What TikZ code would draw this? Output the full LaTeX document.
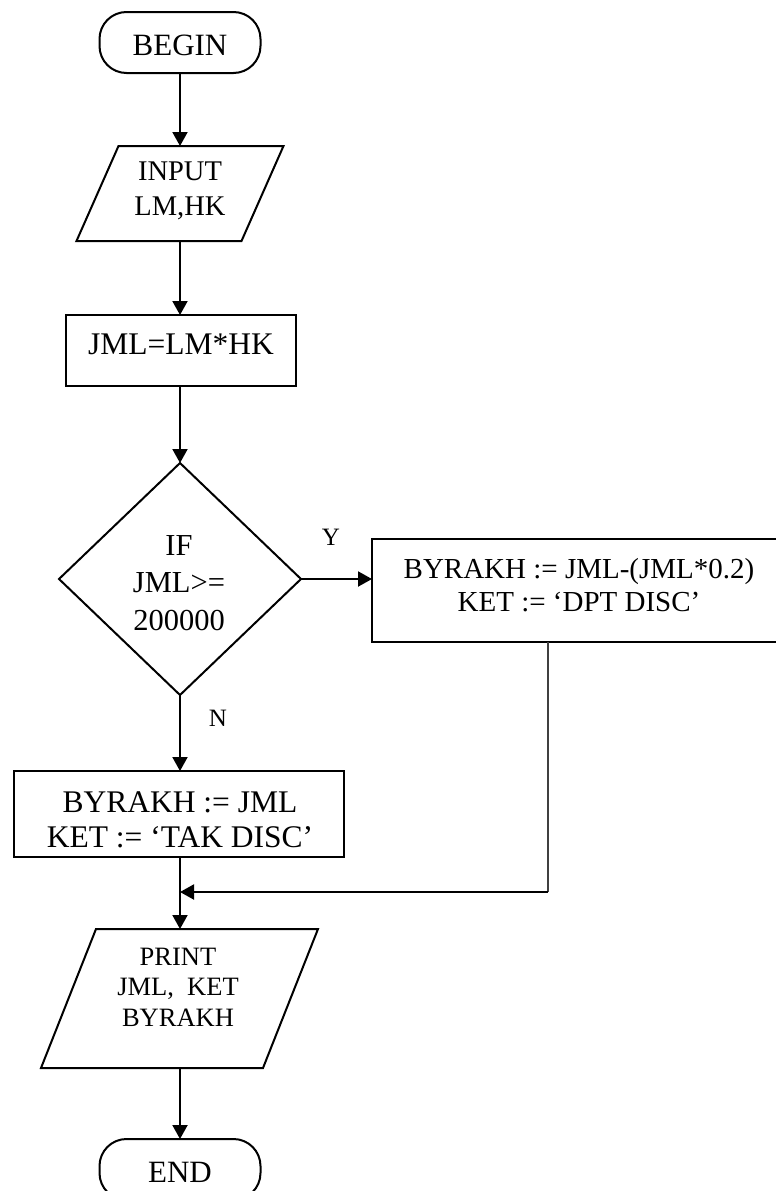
\documentclass[tikz,border=0pt]{standalone}
\usepackage{fontspec}
\setmainfont{Liberation Serif}
\usetikzlibrary{arrows.meta}
\newcommand{\fsz}[2]{\fontsize{#1}{#2}\selectfont}
\begin{document}
\begin{tikzpicture}[x=1pt,y=-1pt,line width=2pt,
  flow/.style={-{Triangle[length=14pt,width=15pt]}},
  tbox/.style={draw,inner sep=0pt,outer sep=0pt},
  frame/.style={inner sep=0pt,outer sep=0pt},
  txt/.style={inner sep=0pt,align=center}]
\useasboundingbox (0,0) rectangle (776,1191);
\clip (0,0) rectangle (776,1191);
\fill[white] (0,0) rectangle (776,1191);

% shapes
\node[tbox,minimum width=161pt,minimum height=61pt,rounded corners=27pt] (begin) at (180,42.5) {};
\node[txt,font=\fsz{31}{35}] (beginT) at (180,45) {BEGIN};

\node[frame,minimum width=207pt,minimum height=95pt] (input) at (180,193.5) {};
\draw ([xshift=42pt]input.north west) -- (input.north east) -- ([xshift=-42pt]input.south east) -- (input.south west) -- cycle;
\node[txt,font=\fsz{28.5}{35}] (inputT) at (180,191) {INPUT\\LM,HK};

\node[tbox,minimum width=230pt,minimum height=71pt] (jml) at (181,350.5) {};
\node[txt,font=\fsz{31.5}{35}] (jmlT) at (181,344) {JML=LM*HK};

\node[frame,minimum width=242pt,minimum height=232pt] (dec) at (180,579) {};
\draw (dec.north) -- (dec.east) -- (dec.south) -- (dec.west) -- cycle;
\node[txt,font=\fsz{30.5}{37.5}] (decT) at (179,583) {IF\\JML>=\\200000};

\node[tbox,minimum width=414pt,minimum height=103pt] (dpt) at (579,590.5) {};
\node[txt,font=\fsz{29}{33}] (dptT) at (579,585) {BYRAKH := JML-(JML*0.2)\\KET := ‘DPT DISC’};

\node[tbox,minimum width=330pt,minimum height=86pt] (tak) at (179,814) {};
\node[txt,font=\fsz{31.5}{35}] (takT) at (180,819.5) {BYRAKH := JML\\KET := ‘TAK DISC’};

\node[frame,minimum width=277pt,minimum height=139pt] (print) at (179.5,998.5) {};
\draw ([xshift=55pt]print.north west) -- (print.north east) -- ([xshift=-55pt]print.south east) -- (print.south west) -- cycle;
\node[txt,font=\fsz{26.5}{30.5}] (printT) at (178,987) {PRINT\\JML,\ \ KET\\BYRAKH};

\node[tbox,minimum width=161pt,minimum height=61pt,rounded corners=27pt] (end) at (180,1169.5) {};
\node[txt,font=\fsz{31}{35}] (endT) at (180,1172) {END};

% labels
\node[txt,font=\fsz{25}{28}] (yes) at (331,537) {Y};
\node[txt,font=\fsz{25}{28}] (no) at (218,718) {N};

% connectors
\coordinate (corner) at (548,892);
\coordinate (merge) at (180,892);
\draw[flow] (begin.south -| merge) -- (merge |- input.north);
\draw[flow] (input.south -| merge) -- (merge |- jml.north);
\draw[flow] (jml.south -| merge) -- (dec.north);
\draw[flow] (dec.east) -- (dec.east -| dpt.west);
\draw[flow] (dec.south) -- (dec.south |- tak.north);
\draw[flow] (tak.south -| merge) -- (merge |- print.north);
\draw[line width=1.4pt,black!75] (dpt.south -| corner) -- (corner);
\draw[flow] (corner) -- (merge);
\draw[flow] (print.south -| merge) -- (merge |- end.north);
\end{tikzpicture}
\end{document}
